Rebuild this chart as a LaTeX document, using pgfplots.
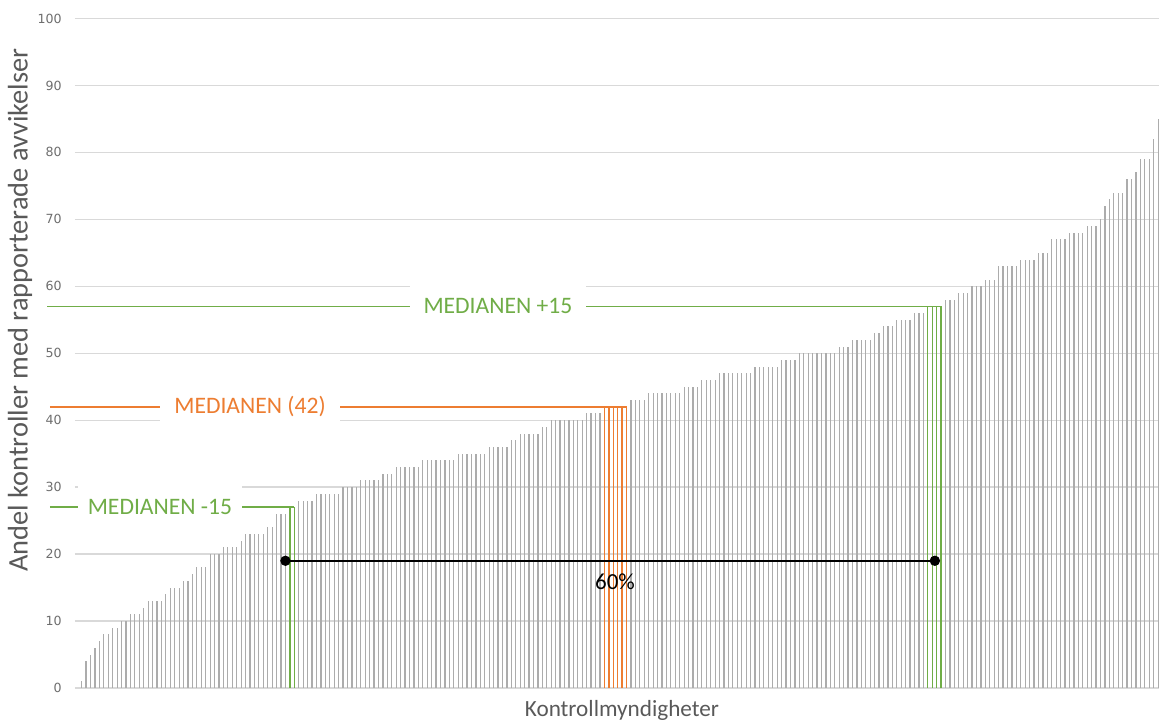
\documentclass[border=0pt]{standalone}
\usepackage{pgfplots}
\pgfplotsset{compat=1.18}
\usepackage{pgfplotstable}
\usepackage{fontspec}
\setmainfont{Carlito}
\newfontfamily\tickfont{DejaVu Sans}
\definecolor{bargray}{HTML}{ACACAC}
\definecolor{gridgray}{HTML}{D9D9D9}
\definecolor{xlgreen}{HTML}{70AD47}
\definecolor{xlorange}{HTML}{ED7D31}
\definecolor{tickgray}{HTML}{6E6E6E}
\definecolor{labgray}{HTML}{595959}

\pgfplotstableread{
i v
1 1
2 4
3 5
4 6
5 7
6 8
7 8
8 9
9 9
10 10
11 10
12 11
13 11
14 11
15 12
16 13
17 13
18 13
19 13
20 14
21 15
22 15
23 15
24 16
25 16
26 17
27 18
28 18
29 18
30 20
31 20
32 20
33 21
34 21
35 21
36 21
37 22
38 23
39 23
40 23
41 23
42 23
43 24
44 24
45 26
46 26
47 26
50 28
51 28
52 28
53 28
54 29
55 29
56 29
57 29
58 29
59 29
60 30
61 30
62 30
63 30
64 31
65 31
66 31
67 31
68 31
69 32
70 32
71 32
72 33
73 33
74 33
75 33
76 33
77 33
78 34
79 34
80 34
81 34
82 34
83 34
84 34
85 34
86 35
87 35
88 35
89 35
90 35
91 35
92 35
93 36
94 36
95 36
96 36
97 36
98 37
99 37
100 38
101 38
102 38
103 38
104 38
105 39
106 39
107 40
108 40
109 40
110 40
111 40
112 40
113 40
114 40
115 41
116 41
117 41
118 41
125 43
126 43
127 43
128 43
129 44
130 44
131 44
132 44
133 44
134 44
135 44
136 44
137 45
138 45
139 45
140 45
141 46
142 46
143 46
144 46
145 47
146 47
147 47
148 47
149 47
150 47
151 47
152 47
153 48
154 48
155 48
156 48
157 48
158 48
159 49
160 49
161 49
162 49
163 50
164 50
165 50
166 50
167 50
168 50
169 50
170 50
171 50
172 51
173 51
174 51
175 52
176 52
177 52
178 52
179 52
180 53
181 53
182 54
183 54
184 54
185 55
186 55
187 55
188 55
189 56
190 56
191 56
196 58
197 58
198 58
199 59
200 59
201 59
202 60
203 60
204 60
205 61
206 61
207 61
208 63
209 63
210 63
211 63
212 63
213 64
214 64
215 64
216 64
217 65
218 65
219 65
220 67
221 67
222 67
223 67
224 68
225 68
226 68
227 68
228 69
229 69
230 69
231 70
232 72
233 73
234 74
235 74
236 74
237 76
238 76
239 77
240 79
241 79
242 79
243 82
244 85
}\greydata

\pgfplotstableread{
i v
119 42
120 42
121 42
122 42
123 42
124 42
}\orangedata

\pgfplotstableread{
i v
48 27
49 27
192 57
193 57
194 57
195 57
}\greendata

\begin{document}
\begin{tikzpicture}
\begin{axis}[
  scale only axis, width=542pt, height=334.75pt,
  xmin=-0.51, xmax=244.2, ymin=0, ymax=100,
  ytick={0,10,...,100}, xtick=\empty,
  ymajorgrids, grid style={draw=gridgray, line width=0.65pt},
  axis line style={draw=none}, major tick length=0pt,
  clip=false,
  /pgf/number format/assume math mode=true,
  yticklabel style={font=\tickfont\fontsize{6.3pt}{7.5pt}\selectfont, text=tickgray, anchor=east, inner sep=0pt, xshift=-6.5pt},
  xlabel={Kontrollmyndigheter},
  xlabel style={at={(axis description cs:0.5046,-0.0329)}, anchor=center, font=\fontsize{11.6pt}{13pt}\selectfont, text=labgray},
  ylabel={Andel kontroller med rapporterade avvikelser},
  ylabel style={at={(axis description cs:-0.05074,0.5646)}, anchor=center, font=\fontsize{14.2pt}{16pt}\selectfont, text=labgray},
]
\coordinate (bl) at (rel axis cs:0,0);
\coordinate (tr) at (rel axis cs:1,1);
\addplot[ycomb, draw=bargray, line width=0.62pt] table[x=i,y=v]{\greydata};
\addplot[ycomb, draw=xlorange, line width=0.7pt] table[x=i,y=v]{\orangedata};
\addplot[ycomb, draw=xlgreen, line width=0.7pt] table[x=i,y=v]{\greendata};
\addplot[draw=xlgreen, line width=0.75pt] coordinates {(-6.16,27) (49,27)};
\addplot[draw=xlorange, line width=0.75pt] coordinates {(-6.16,42) (124,42)};
\addplot[draw=xlgreen, line width=0.75pt] coordinates {(-6.83,57) (195,57)};
\addplot[draw=black, line width=0.75pt, mark=*, mark size=2.2pt, mark options={fill=black}] coordinates {(47,19) (193.6,19)};
\node[fill=white, text=xlgreen, font=\fontsize{11.8pt}{14pt}\selectfont, inner xsep=5pt, inner ysep=0pt, minimum height=23pt] at (axis cs:18.67,27) {MEDIANEN -15};
\node[fill=white, text=xlorange, font=\fontsize{11.8pt}{14pt}\selectfont, inner xsep=7pt, inner ysep=0pt, minimum height=23pt] at (axis cs:39.0,42) {MEDIANEN (42)};
\node[fill=white, text=xlgreen, font=\fontsize{11.8pt}{14pt}\selectfont, inner xsep=7pt, inner ysep=0pt, minimum height=23pt] at (axis cs:94.97,57) {MEDIANEN +15};
\node[text=black, font=\fontsize{11.5pt}{13pt}\selectfont] at (axis cs:121.4,15.8) {60\%};
\end{axis}
\pgfresetboundingbox
\path[use as bounding box] ([shift={(-37.5pt,-16pt)}]bl) rectangle ([shift={(0pt,9.25pt)}]tr);
\end{tikzpicture}
\end{document}
